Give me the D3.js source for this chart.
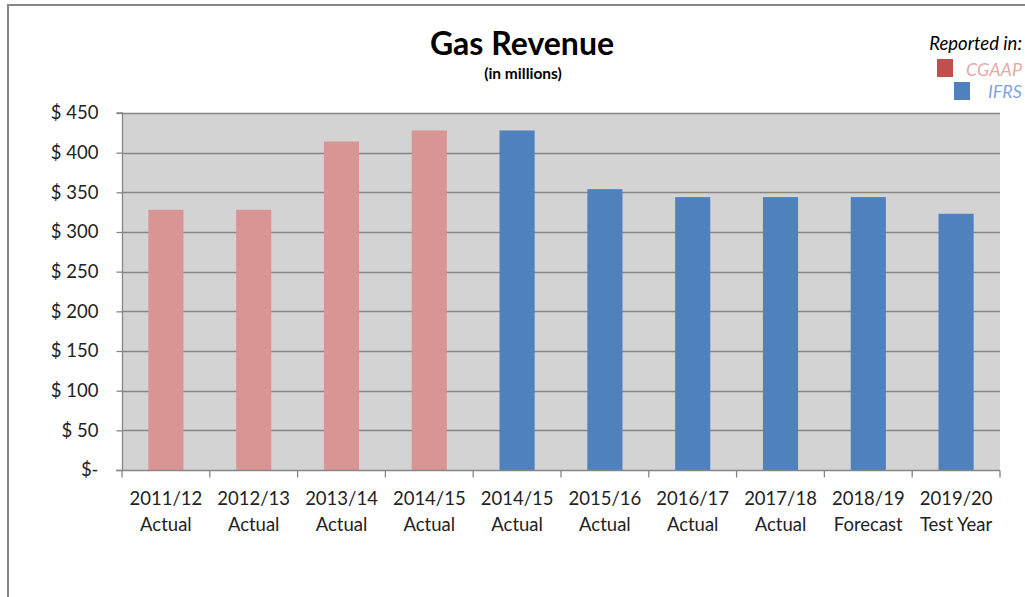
<!DOCTYPE html>
<html>
<head>
<meta charset="utf-8">
<script src="https://cdn.jsdelivr.net/npm/d3@7"></script>
<style>
  body { margin: 0; background: #fff; }
  svg { display: block; font-family: Lato, "Open Sans", sans-serif; }
</style>
</head>
<body>
<div id="chartContainer"></div>
<script>
// data
const years = ["2011/12", "2012/13", "2013/14", "2014/15", "2014/15", "2015/16", "2016/17", "2017/18", "2018/19", "2019/20"];
const kinds = ["Actual", "Actual", "Actual", "Actual", "Actual", "Actual", "Actual", "Actual", "Forecast", "Test Year"];
const revenue = [328, 328, 414, 428, 428, 354, 344, 344, 344, 323];
const standard = ["CGAAP", "CGAAP", "CGAAP", "CGAAP", "IFRS", "IFRS", "IFRS", "IFRS", "IFRS", "IFRS"];
const yTicks = [0, 50, 100, 150, 200, 250, 300, 350, 400, 450];

const barColor = { CGAAP: "#d99594", IFRS: "#4f81bd" };

const width = 1025, height = 597;
const plot = { left: 122, right: 1000, top: 113, bottom: 470 };

const svg = d3.select("#chartContainer")
    .append("svg")
    .attr("width", width)
    .attr("height", height);

// outer frame (cut off at right and bottom)
svg.append("path")
    .attr("d", `M8,${height + 5} V5 H${width + 5}`)
    .attr("fill", "none")
    .attr("stroke", "#878787")
    .attr("stroke-width", 2);

const data = years.map((y, i) => ({ id: i, year: y, kind: kinds[i], value: revenue[i], std: standard[i] }));

const x = d3.scaleBand()
    .domain(data.map(d => d.id))
    .range([plot.left, plot.right])
    .padding(0);

const y = d3.scaleLinear()
    .domain([0, 450])
    .range([plot.bottom, plot.top]);

svg.append("rect")
    .attr("x", plot.left)
    .attr("y", plot.top)
    .attr("width", plot.right - plot.left)
    .attr("height", plot.bottom - plot.top)
    .attr("fill", "#d3d3d3");

// gridlines
svg.append("g")
    .selectAll("line")
    .data(yTicks.filter(t => t > 0))
    .enter().append("line")
    .attr("x1", plot.left)
    .attr("x2", plot.right)
    .attr("y1", d => Math.round(y(d)) + 0.5)
    .attr("y2", d => Math.round(y(d)) + 0.5)
    .attr("stroke", "#868686")
    .attr("stroke-width", 1.3);

// bars
const barW = x.bandwidth() * 0.4;
svg.append("g")
    .selectAll("rect")
    .data(data)
    .enter().append("rect")
    .attr("x", d => x(d.id) + (x.bandwidth() - barW) / 2)
    .attr("y", d => y(d.value))
    .attr("width", barW)
    .attr("height", d => y(0) - y(d.value))
    .attr("fill", d => barColor[d.std]);

// y axis
const yAxis = svg.append("g")
    .attr("transform", `translate(${plot.left + 0.5},0)`)
    .call(d3.axisLeft(y).tickValues(yTicks).tickSize(6).tickPadding(18)
        .tickFormat(d => d === 0 ? "$-" : `$ ${d}`));
yAxis.select(".domain").attr("stroke", "#868686").attr("stroke-width", 1.3).attr("d", `M-6,${y(450)}H0V${y(0)}`);
yAxis.selectAll(".tick line").attr("stroke", "#868686").attr("stroke-width", 1.3);
yAxis.selectAll(".tick text")
    .attr("font-size", 18.5)
    .attr("fill", "#222")
    .attr("font-family", "Lato, 'Open Sans', sans-serif");

// x axis
const xAxisG = svg.append("g")
    .attr("transform", `translate(0,${plot.bottom + 0.5})`);
xAxisG.append("line")
    .attr("x1", plot.left - 6).attr("x2", plot.right)
    .attr("stroke", "#868686").attr("stroke-width", 1.3);
xAxisG.selectAll(".xtick")
    .data(d3.range(years.length + 1))
    .enter().append("line")
    .attr("x1", i => i < years.length ? x(i) : plot.right)
    .attr("x2", i => i < years.length ? x(i) : plot.right)
    .attr("y1", 0).attr("y2", 7)
    .attr("stroke", "#868686").attr("stroke-width", 1.3);

const labels = xAxisG.selectAll(".xlabel")
    .data(data)
    .enter().append("text")
    .attr("text-anchor", "middle")
    .attr("font-size", 18.5)
    .attr("fill", "#222");
labels.append("tspan")
    .attr("x", d => x(d.id) + x.bandwidth() / 2)
    .attr("y", 34)
    .text(d => d.year);
labels.append("tspan")
    .attr("x", d => x(d.id) + x.bandwidth() / 2)
    .attr("y", 60)
    .text(d => d.kind);

// title
svg.append("text")
    .attr("x", 522).attr("y", 55)
    .attr("text-anchor", "middle")
    .attr("font-size", 32).attr("font-weight", "bold")
    .attr("fill", "#000")
    .text("Gas Revenue");
svg.append("text")
    .attr("x", 523).attr("y", 79)
    .attr("text-anchor", "middle")
    .attr("font-size", 15.5).attr("font-weight", "bold")
    .attr("fill", "#000")
    .text("(in millions)");

// legend
svg.append("text")
    .attr("x", 1022).attr("y", 50)
    .attr("text-anchor", "end")
    .attr("font-size", 18.5).attr("font-style", "italic")
    .attr("fill", "#000")
    .text("Reported in:");

const legend = [
    { label: "CGAAP", swatch: "#c0504d", text: "#e6a9a8", sx: 937, sy: 59, ty: 76 },
    { label: "IFRS", swatch: "#4f81bd", text: "#7ea6dc", sx: 954, sy: 82, ty: 98 }
];
legend.forEach(l => {
    svg.append("rect")
        .attr("x", l.sx).attr("y", l.sy)
        .attr("width", 16).attr("height", 18)
        .attr("fill", l.swatch);
    svg.append("text")
        .attr("x", 1022).attr("y", l.ty)
        .attr("text-anchor", "end")
        .attr("font-size", 18).attr("font-style", "italic")
        .attr("fill", l.text)
        .text(l.label);
});
</script>
</body>
</html>
